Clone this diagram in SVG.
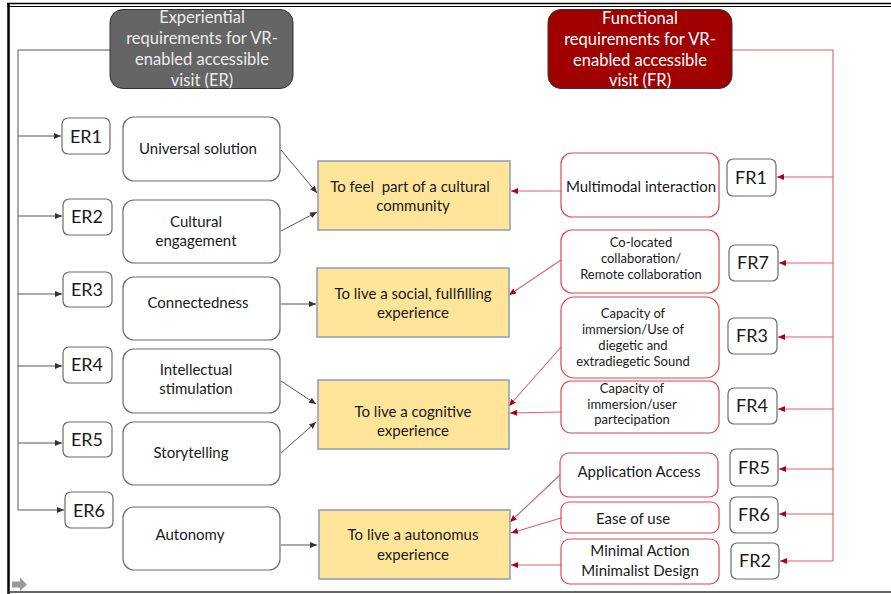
<svg xmlns="http://www.w3.org/2000/svg" width="891" height="594" viewBox="0 0 891 594">
<style>
text{font-family:Lato,"Open Sans","Liberation Sans",sans-serif;fill:#1a1a1a;text-anchor:middle}
.hdr{fill:#ececec;font-size:16.5px}
.hdr2{fill:#ffffff;font-size:16.5px}
.id{font-size:18px}
.c{font-size:15px}
.s{font-size:13px}
.w{fill:#fff;stroke:#6b6b6b;stroke-width:1.2}
.r{fill:#fff;stroke:#e0474f;stroke-width:1.2}
.y{fill:#fee59a;stroke:#8a9cb8;stroke-width:1.5}
.gl{stroke:#555;stroke-width:1;fill:none}
.rl{stroke:#e06068;stroke-width:1.1;fill:none}
</style>
<defs>
<marker id="ag" markerWidth="8" markerHeight="8" refX="7" refY="4" orient="auto" markerUnits="userSpaceOnUse"><path d="M0,1 L7,4 L0,7 z" fill="#333"/></marker>
<marker id="ar" markerWidth="8" markerHeight="8" refX="7" refY="4" orient="auto" markerUnits="userSpaceOnUse"><path d="M0,1 L7,4 L0,7 z" fill="#b00010"/></marker>
</defs>
<rect width="891" height="594" fill="#fff"/>
<g id="frame">
<line x1="7" y1="3.5" x2="891" y2="3.5" stroke="#000" stroke-width="1.5"/>
<line x1="7" y1="6.5" x2="891" y2="6.5" stroke="#000" stroke-width="1.2"/>
<line x1="8.5" y1="3" x2="8.5" y2="594" stroke="#000" stroke-width="2.5"/>
<line x1="8" y1="592" x2="891" y2="592" stroke="#333" stroke-width="1.5"/>
<path d="M12,581.5 L20,581.5 L20,577.5 L27,584.5 L20,591 L20,587.5 L12,587.5 z" fill="#9a9a9a"/>
</g>
<g id="connectors">
<path class="gl" d="M110,50 L18,50 L18,510"/>
<line class="gl" x1="18" y1="136" x2="61" y2="136" marker-end="url(#ag)"/>
<line class="gl" x1="18" y1="216" x2="62" y2="216" marker-end="url(#ag)"/>
<line class="gl" x1="18" y1="294" x2="62" y2="294" marker-end="url(#ag)"/>
<line class="gl" x1="18" y1="366" x2="62" y2="366" marker-end="url(#ag)"/>
<line class="gl" x1="18" y1="443" x2="62" y2="443" marker-end="url(#ag)"/>
<line class="gl" x1="18" y1="510" x2="64" y2="510" marker-end="url(#ag)" stroke="#222"/>
<line class="gl" x1="281" y1="150" x2="317" y2="193" marker-end="url(#ag)"/>
<line class="gl" x1="281" y1="231" x2="317" y2="212" marker-end="url(#ag)"/>
<line class="gl" x1="281" y1="304" x2="316" y2="304" marker-end="url(#ag)"/>
<line class="gl" x1="281" y1="381" x2="316" y2="404" marker-end="url(#ag)"/>
<line class="gl" x1="281" y1="453" x2="316" y2="422" marker-end="url(#ag)"/>
<line class="gl" x1="281" y1="545" x2="317" y2="545" marker-end="url(#ag)"/>
<path class="rl" d="M732,50 L833,50 L833,561"/>
<line class="rl" x1="833" y1="177" x2="777" y2="177" marker-end="url(#ar)"/>
<line class="rl" x1="833" y1="263" x2="779" y2="263" marker-end="url(#ar)"/>
<line class="rl" x1="833" y1="337" x2="778" y2="337" marker-end="url(#ar)"/>
<line class="rl" x1="833" y1="409" x2="778" y2="409" marker-end="url(#ar)"/>
<line class="rl" x1="833" y1="469" x2="779" y2="469" marker-end="url(#ar)"/>
<line class="rl" x1="833" y1="514" x2="779" y2="514" marker-end="url(#ar)"/>
<line class="rl" x1="833" y1="561" x2="780" y2="561" marker-end="url(#ar)"/>
<line class="rl" x1="561" y1="191" x2="511" y2="191" marker-end="url(#ar)"/>
<line class="rl" x1="561" y1="260" x2="509" y2="295" marker-end="url(#ar)"/>
<line class="rl" x1="561" y1="347" x2="509" y2="406" marker-end="url(#ar)"/>
<line class="rl" x1="561" y1="412" x2="510" y2="413" marker-end="url(#ar)"/>
<line class="rl" x1="560" y1="475" x2="510" y2="522" marker-end="url(#ar)"/>
<line class="rl" x1="561" y1="518" x2="511" y2="533" marker-end="url(#ar)"/>
<line class="rl" x1="561" y1="565" x2="511" y2="565" marker-end="url(#ar)"/>
</g>
<g id="er-header"><rect x="110" y="9.5" width="183" height="79" rx="13" fill="#656565" stroke="#333" stroke-width="1"/>
<text class="hdr" x="202" y="23">Experiential</text><text class="hdr" x="202" y="44">requirements for VR-</text><text class="hdr" x="202" y="65">enabled accessible</text><text class="hdr" x="202" y="86">visit (ER)</text></g>
<g id="fr-header"><rect x="548" y="9.5" width="184" height="79" rx="13" fill="#a00000" stroke="#333" stroke-width="1"/>
<text class="hdr2" x="640" y="24">Functional</text><text class="hdr2" x="640" y="45">requirements for VR-</text><text class="hdr2" x="640" y="66">enabled accessible</text><text class="hdr2" x="640" y="86">visit (FR)</text></g>
<g id="ER1"><rect class="w" x="62" y="118" width="48" height="36" rx="6"/><text class="id" x="86" y="143">ER1</text></g>
<g id="ER2"><rect class="w" x="63" y="199" width="49" height="36" rx="6"/><text class="id" x="87" y="223">ER2</text></g>
<g id="ER3"><rect class="w" x="63" y="272" width="49" height="35" rx="6"/><text class="id" x="87" y="296">ER3</text></g>
<g id="ER4"><rect class="w" x="63" y="347" width="49" height="36" rx="6"/><text class="id" x="87" y="371">ER4</text></g>
<g id="ER5"><rect class="w" x="63" y="422" width="49" height="35" rx="6"/><text class="id" x="87" y="446">ER5</text></g>
<g id="ER6"><rect class="w" x="65" y="492" width="48" height="36" rx="6"/><text class="id" x="89" y="517">ER6</text></g>
<g id="universal-solution"><rect class="w" x="123" y="117" width="157" height="64" rx="11"/><text class="c" x="198" y="154">Universal solution</text></g>
<g id="cultural-engagement"><rect class="w" x="123" y="200" width="157" height="63" rx="11"/><text class="c" x="196" y="227">Cultural</text><text class="c" x="196" y="246">engagement</text></g>
<g id="connectedness"><rect class="w" x="123" y="277" width="157" height="63" rx="11"/><text class="c" x="198" y="308">Connectedness</text></g>
<g id="intellectual-stimulation"><rect class="w" x="123" y="349" width="157" height="64" rx="11"/><text class="c" x="196" y="375">Intellectual</text><text class="c" x="196" y="394">stimulation</text></g>
<g id="storytelling"><rect class="w" x="123" y="422" width="157" height="63" rx="11"/><text class="c" x="191" y="458">Storytelling</text></g>
<g id="autonomy"><rect class="w" x="123" y="507" width="157" height="63" rx="11"/><text class="c" x="190" y="540">Autonomy</text></g>
<g id="goal-cultural"><rect class="y" x="318" y="161" width="192" height="69"/><text class="c" x="410" y="192" xml:space="preserve">To feel  part of a cultural</text><text class="c" x="413" y="211">community</text></g>
<g id="goal-social"><rect class="y" x="317" y="268" width="192" height="69"/><text class="c" x="413" y="299">To live a social, fullfilling</text><text class="c" x="413" y="318">experience</text></g>
<g id="goal-cognitive"><rect class="y" x="318" y="380" width="191" height="69"/><text class="c" x="413" y="417">To live a cognitive</text><text class="c" x="413" y="436">experience</text></g>
<g id="goal-autonomus"><rect class="y" x="319" y="510" width="191" height="69"/><text class="c" x="413" y="540">To live a autonomus</text><text class="c" x="413" y="560">experience</text></g>
<g id="multimodal"><rect class="r" x="561" y="153" width="158" height="64" rx="11"/><text class="c" x="641" y="192">Multimodal interaction</text></g>
<g id="collaboration"><rect class="r" x="561" y="230" width="158" height="63" rx="11"/><text class="s" x="641" y="247">Co-located</text><text class="s" x="641" y="263">collaboration/</text><text class="s" x="641" y="279">Remote collaboration</text></g>
<g id="immersion-sound"><rect class="r" x="561" y="297" width="158" height="81" rx="13"/><text class="s" x="633" y="318">Capacity of</text><text class="s" x="633" y="334">immersion/Use of</text><text class="s" x="633" y="350">diegetic and</text><text class="s" x="633" y="366">extradiegetic Sound</text></g>
<g id="immersion-user"><rect class="r" x="561" y="381" width="158" height="52" rx="10"/><text class="s" x="632" y="393">Capacity of</text><text class="s" x="632" y="409">immersion/user</text><text class="s" x="632" y="424">partecipation</text></g>
<g id="application-access"><rect class="r" x="560" y="453" width="158" height="44" rx="9"/><text class="c" x="639" y="477">Application Access</text></g>
<g id="ease-of-use"><rect class="r" x="561" y="502" width="158" height="31" rx="8"/><text class="c" x="633" y="524">Ease of use</text></g>
<g id="minimal"><rect class="r" x="561" y="539" width="158" height="45" rx="9"/><text class="c" x="640" y="556">Minimal Action</text><text class="c" x="640" y="576">Minimalist Design</text></g>
<g id="FR1"><rect class="w" x="727" y="159" width="49" height="37" rx="6"/><text class="id" x="751" y="184">FR1</text></g>
<g id="FR7"><rect class="w" x="729" y="245" width="49" height="36" rx="6"/><text class="id" x="753" y="269">FR7</text></g>
<g id="FR3"><rect class="w" x="728" y="318" width="49" height="36" rx="6"/><text class="id" x="752" y="342">FR3</text></g>
<g id="FR4"><rect class="w" x="728" y="388" width="49" height="36" rx="6"/><text class="id" x="752" y="412">FR4</text></g>
<g id="FR5"><rect class="w" x="730" y="449" width="48" height="37" rx="6"/><text class="id" x="754" y="474">FR5</text></g>
<g id="FR6"><rect class="w" x="730" y="497" width="48" height="36" rx="6"/><text class="id" x="754" y="521">FR6</text></g>
<g id="FR2"><rect class="w" x="731" y="543" width="48" height="36" rx="6"/><text class="id" x="755" y="567">FR2</text></g>
</svg>
